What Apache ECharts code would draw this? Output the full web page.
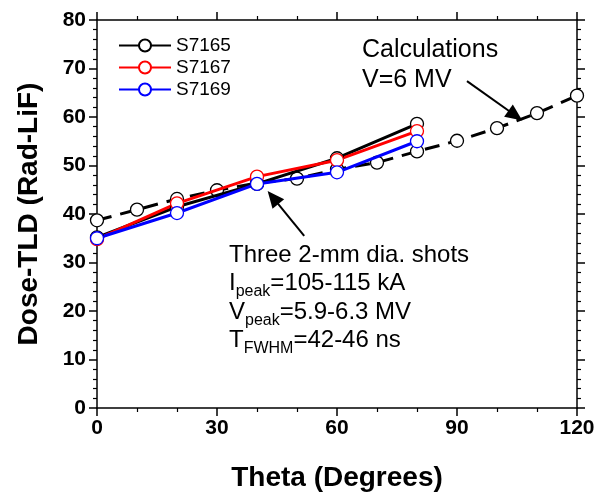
<!DOCTYPE html>
<html>
<head>
<meta charset="utf-8">
<script src="https://cdn.jsdelivr.net/npm/echarts@6/dist/echarts.min.js"></script>
<style>
  html, body { margin: 0; padding: 0; background: #fff; }
  #chart { width: 607px; height: 492px; }
</style>
</head>
<body>
<div id="chart"></div>
<script>
// measured shots
const thetaShots = [0, 20, 40, 60, 80];
const s7165 = [35.2, 41.5, 46.2, 51.5, 58.6];
const s7167 = [34.8, 42.2, 47.7, 51.1, 57.1];
const s7169 = [35.0, 40.2, 46.2, 48.6, 55.0];
// calculation, V = 6 MV
const thetaCalc = [0, 10, 20, 30, 40, 50, 60, 70, 80, 90, 100, 110, 120];
const calc = [38.7, 40.9, 43.1, 44.9, 46.4, 47.3, 49.2, 50.6, 52.9, 55.1, 57.7, 60.8, 64.4];

const xTicks = [0, 30, 60, 90, 120];
const yTicks = [0, 10, 20, 30, 40, 50, 60, 70, 80];

const FONT = "'Liberation Sans', Arial, sans-serif";
const pair = (xs, ys) => xs.map((x, i) => [x, ys[i]]);

const chart = echarts.init(document.getElementById("chart"), null, { renderer: "canvas" });

const axisCommon = {
  axisLine: { show: true, onZero: false, lineStyle: { color: "#000", width: 1.5 } },
  axisTick: { show: true, inside: false, length: 8, lineStyle: { color: "#000", width: 1.5 } },
  minorTick: { show: true, length: 4, lineStyle: { color: "#000", width: 1.2 } },
  splitLine: { show: false },
};
const labelStyle = { color: "#000", fontFamily: FONT, fontWeight: "bold", fontSize: 21 };

const shotSeries = (name, data, color) => ({
  name,
  type: "line",
  data: pair(thetaShots, data),
  symbol: "circle",
  symbolSize: 13,
  lineStyle: { color, width: 3 },
  itemStyle: { color: "#fff", borderColor: color, borderWidth: 1.3 },
  z: 3,
});

chart.setOption({
  animation: false,
  textStyle: { fontFamily: FONT },
  grid: { left: 97, right: 30, top: 20, bottom: 84, containLabel: false, outerBoundsMode: "none" },
  legend: {
    left: 113, top: 31, orient: "vertical",
    itemWidth: 52, itemHeight: 15, itemGap: 3,
    textStyle: { color: "#000", fontSize: 19, fontFamily: FONT },
    data: ["S7165", "S7167", "S7169"],
  },
  xAxis: [
    {
      ...axisCommon, type: "value", min: 0, max: 120, interval: 30,
      minorTick: { ...axisCommon.minorTick, splitNumber: 3 },
      axisLabel: { ...labelStyle, margin: 10, formatter: v => xTicks.includes(v) ? String(v) : "" },
      name: "Theta (Degrees)", nameLocation: "middle", nameGap: 56,
      nameTextStyle: { color: "#000", fontFamily: FONT, fontWeight: "bold", fontSize: 28 },
    },
    {
      ...axisCommon, type: "value", position: "top", min: 0, max: 120, interval: 30,
      minorTick: { ...axisCommon.minorTick, splitNumber: 3 },
      axisLabel: { show: false },
    },
  ],
  yAxis: [
    {
      ...axisCommon, type: "value", min: 0, max: 80, interval: 10,
      minorTick: { ...axisCommon.minorTick, splitNumber: 5 },
      axisLabel: { ...labelStyle, margin: 11, formatter: v => yTicks.includes(v) ? String(v) : "" },
      name: "Dose-TLD (Rad-LiF)", nameLocation: "middle", nameGap: 54,
      nameTextStyle: { color: "#000", fontFamily: FONT, fontWeight: "bold", fontSize: 28 },
    },
    {
      ...axisCommon, type: "value", position: "right", min: 0, max: 80, interval: 10,
      minorTick: { ...axisCommon.minorTick, splitNumber: 5 },
      axisLabel: { show: false },
    },
  ],
  series: [
    {
      name: "Calculations",
      type: "line",
      data: pair(thetaCalc, calc),
      symbol: "circle",
      symbolSize: 13,
      lineStyle: { color: "#000", width: 3, type: [15, 9] },
      itemStyle: { color: "#fff", borderColor: "#000", borderWidth: 1.3 },
      z: 2,
      markLine: {
        silent: true,
        symbol: ["none", "triangle"],
        symbolSize: [15, 17],
        label: { show: false },
        lineStyle: { color: "#000", width: 2, type: "solid" },
        emphasis: { disabled: true },
        data: [
          [{ coord: [92.5, 67.4] }, { coord: [104.6, 60.3] }],
          [{ coord: [51.8, 35.5] }, { coord: [44.0, 43.4] }],
        ],
      },
    },
    shotSeries("S7165", s7165, "#000"),
    shotSeries("S7167", s7167, "#ff0000"),
    shotSeries("S7169", s7169, "#0000ff"),
  ],
  graphic: [
    {
      type: "text", left: 362, top: 35,
      style: {
        text: "Calculations\nV=6 MV",
        font: `25px ${FONT}`, fill: "#000", lineHeight: 30,
      },
    },
    {
      type: "text", left: 229, top: 241,
      style: {
        text: "Three 2-mm dia. shots\n{m|I}{s|peak}{m|=105-115 kA}\n{m|V}{s|peak}{m|=5.9-6.3 MV}\n{m|T}{s|FWHM}{m|=42-46 ns}",
        font: `24px ${FONT}`, fill: "#000", lineHeight: 28.5,
        rich: {
          m: { fontSize: 24, fontFamily: FONT, lineHeight: 28.5, verticalAlign: "middle" },
          s: { fontSize: 16, fontFamily: FONT, lineHeight: 16, verticalAlign: "bottom", padding: [0, 0, -2, 0] },
        },
      },
    },
  ],
});
</script>
</body>
</html>
